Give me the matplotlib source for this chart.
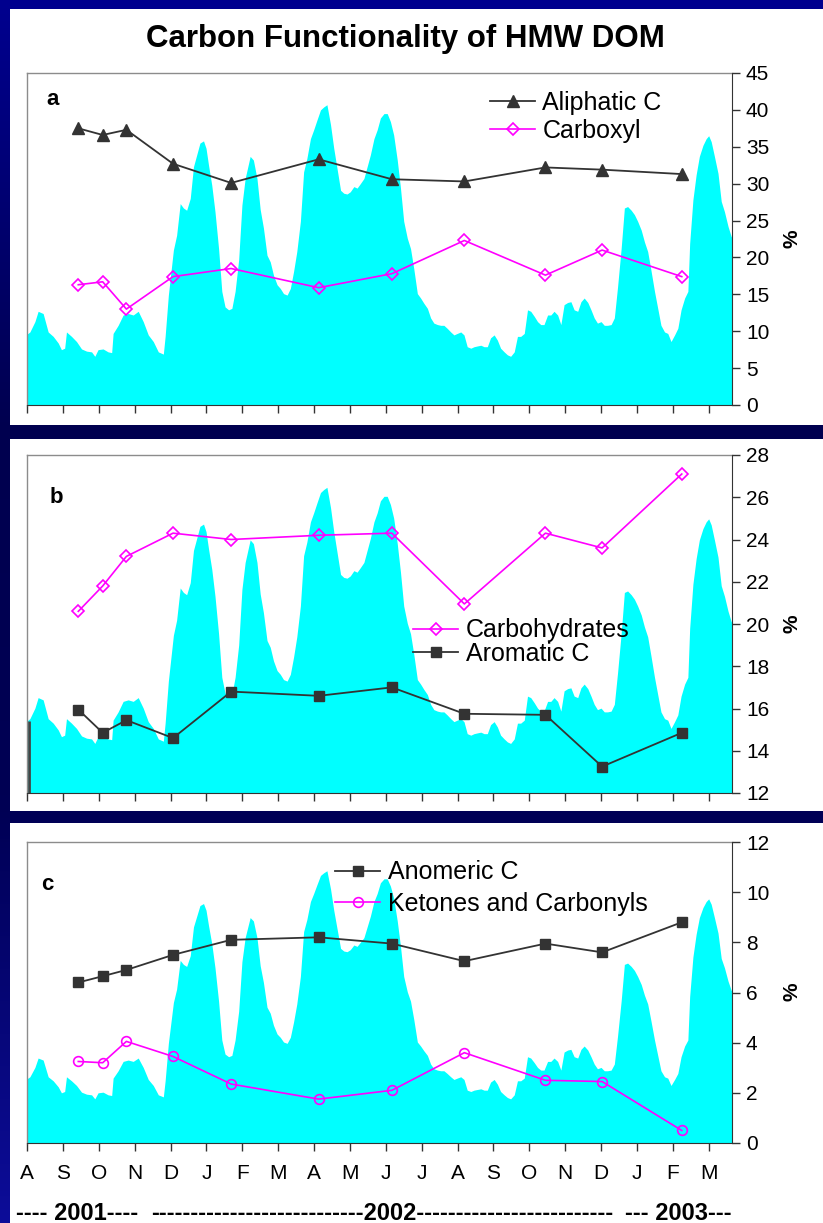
import matplotlib
matplotlib.use("Agg")
import matplotlib.pyplot as plt
import numpy as np
from matplotlib.patches import Rectangle

plt.rcParams['font.family'] = ['Liberation Sans', 'DejaVu Sans']

# ---------------------------------------------------------------- data
# Month labels along the shared time axis (Aug 2001 .. Mar 2003)
month_labels = ['A', 'S', 'O', 'N', 'D', 'J', 'F', 'M', 'A', 'M',
                'J', 'J', 'A', 'S', 'O', 'N', 'D', 'J', 'F', 'M']
year_labels = ['---- 2001----',
               '---------------------------2002-------------------------',
               '--- 2003---']

# Sampling dates, in months since 1 Aug 2001
sample_month = [1.43, 2.11, 2.77, 4.07, 5.69, 8.13, 10.17, 12.19, 14.45, 16.03, 18.25]

# Panel a (%)
aliphatic = [37.5, 36.6, 37.3, 32.7, 30.1, 33.3, 30.6, 30.3, 32.2, 31.9, 31.3]
carboxyl = [16.3, 16.7, 13.0, 17.4, 18.5, 15.9, 17.8, 22.3, 17.6, 21.0, 17.4]

# Panel b (%)
carbohydrates = [20.6, 21.8, 23.2, 24.3, 24.0, 24.2, 24.3, 20.95, 24.3, 23.6, 27.1]
aromatic = [15.95, 14.85, 15.45, 14.6, 16.8, 16.6, 17.0, 15.75, 15.7, 13.25, 14.85]

# Panel c (%)
anomeric = [6.4, 6.65, 6.9, 7.5, 8.1, 8.2, 7.95, 7.25, 7.95, 7.6, 8.8]
ketones = [3.25, 3.2, 4.05, 3.45, 2.35, 1.75, 2.1, 3.6, 2.5, 2.45, 0.5]

# River discharge record drawn behind every panel (relative units)
flow_month = [
    0.00, 0.08, 0.22, 0.31, 0.45, 0.59, 0.73, 0.87, 0.96, 1.05, 1.10, 1.24, 1.38, 1.52,
    1.66, 1.80, 1.89, 1.98, 2.12, 2.26, 2.36, 2.40, 2.54, 2.68, 2.82, 2.96, 3.10, 3.24,
    3.38, 3.52, 3.66, 3.80, 3.85, 3.94, 4.08, 4.17, 4.27, 4.36, 4.45, 4.55, 4.64, 4.73,
    4.82, 4.92, 4.99, 5.06, 5.15, 5.24, 5.34, 5.43, 5.52, 5.62, 5.71, 5.80, 5.90, 5.99,
    6.08, 6.22, 6.31, 6.41, 6.50, 6.59, 6.69, 6.78, 6.87, 6.97, 7.06, 7.15, 7.25, 7.34,
    7.43, 7.52, 7.62, 7.71, 7.80, 7.90, 7.99, 8.08, 8.18, 8.27, 8.36, 8.46, 8.55, 8.64,
    8.74, 8.83, 8.92, 9.01, 9.11, 9.20, 9.29, 9.39, 9.48, 9.57, 9.67, 9.76, 9.85, 9.95,
    10.04, 10.13, 10.22, 10.32, 10.41, 10.50, 10.60, 10.69, 10.78, 10.88, 10.97, 11.06,
    11.16, 11.25, 11.34, 11.44, 11.53, 11.62, 11.71, 11.81, 11.90, 11.99, 12.09, 12.18,
    12.27, 12.37, 12.46, 12.55, 12.65, 12.74, 12.83, 12.92, 13.02, 13.11, 13.20, 13.30,
    13.39, 13.48, 13.58, 13.67, 13.76, 13.86, 13.95, 14.04, 14.14, 14.23, 14.32, 14.41,
    14.51, 14.60, 14.69, 14.79, 14.88, 14.97, 15.07, 15.16, 15.25, 15.35, 15.44, 15.53,
    15.63, 15.72, 15.81, 15.90, 16.00, 16.09, 16.18, 16.28, 16.37, 16.46, 16.56, 16.65,
    16.74, 16.84, 16.93, 17.02, 17.12, 17.21, 17.30, 17.39, 17.49, 17.58, 17.67, 17.77,
    17.86, 17.95, 18.05, 18.14, 18.23, 18.33, 18.42, 18.47, 18.56, 18.65, 18.74, 18.84,
    18.93, 19.00, 19.07, 19.16, 19.26, 19.35, 19.44, 19.54, 19.63, 19.68]
flow = [
    9.6, 9.9, 11.3, 12.7, 12.4, 9.9, 9.3, 8.4, 7.5, 7.7, 9.9, 9.3, 8.6, 7.6,
    7.3, 7.2, 6.6, 7.5, 7.6, 7.2, 7.1, 9.7, 10.8, 12.2, 12.4, 12.2, 12.7, 11.3,
    9.5, 8.6, 7.2, 6.9, 9.3, 14.9, 21.0, 23.0, 27.3, 26.7, 26.4, 28.0, 32.3, 33.9,
    35.5, 35.8, 34.8, 32.5, 29.8, 26.2, 21.2, 15.4, 13.3, 12.9, 13.1, 15.4, 19.7, 27.1,
    30.7, 33.7, 33.2, 30.7, 26.5, 24.0, 20.3, 19.4, 17.6, 16.3, 15.8, 15.1, 14.9, 15.8,
    18.1, 20.8, 24.9, 31.6, 33.4, 36.1, 37.3, 38.6, 40.0, 40.4, 40.7, 38.0, 34.8, 32.1,
    29.1, 28.7, 28.6, 28.9, 29.6, 29.4, 30.0, 30.7, 32.3, 33.9, 36.1, 37.3, 38.9, 39.5,
    39.5, 38.4, 36.6, 33.2, 29.4, 24.9, 22.6, 21.2, 18.5, 15.1, 14.5, 13.8,
    13.1, 11.8, 11.1, 10.9, 10.8, 10.8, 10.4, 9.9, 9.5, 9.7, 9.9, 9.5,
    7.9, 7.7, 7.9, 8.0, 8.1, 7.9, 7.9, 9.1, 9.5, 8.8, 7.7, 7.2,
    6.8, 6.6, 7.2, 9.3, 9.3, 9.7, 12.9, 12.7, 12.0, 11.3, 10.9, 10.9,
    12.2, 12.2, 12.7, 12.2, 10.9, 13.6, 13.9, 14.0, 12.9, 12.7, 14.0, 14.5,
    13.9, 12.9, 11.8, 11.1, 11.3, 10.8, 10.8, 10.9, 11.8, 16.0, 21.2, 26.7,
    26.9, 26.4, 25.8, 24.9, 23.7, 22.1, 20.8, 18.3, 15.4, 13.1, 10.8, 9.9,
    9.7, 8.6, 9.5, 10.4, 12.9, 14.5, 15.4, 21.9, 27.8, 31.2, 33.7, 35.2,
    36.1, 36.5, 35.7, 33.7, 31.4, 27.6, 26.2, 24.2, 22.8, 22.8]

# ---------------------------------------------------------------- style
W, H = 823, 1223
CYAN = '#00FFFF'
MAGENTA = '#FF00FF'
DARK = '#333333'
X_END = 19.65
FLOW_TOP = 45.0

fig = plt.figure(figsize=(W / 100, H / 100), dpi=100)

# Slide background: navy gradient frame with white panels
bg = fig.add_axes([0, 0, 1, 1], zorder=-5)
bg.set_xlim(0, W)
bg.set_ylim(H, 0)
bg.axis('off')
pos = np.array([0.0, 0.35, 0.66, 1.0])
cols = np.array([[0.0, 0.0, 0.56], [0.0, 0.0, 0.31], [0.0, 0.0, 0.33], [0.05, 0.05, 0.60]])
t = np.linspace(0, 1, 256)
grad = np.stack([np.interp(t, pos, cols[:, k]) for k in range(3)], axis=1)[:, None, :]
bg.imshow(grad, extent=[0, W, H, 0], aspect='auto', interpolation='bilinear')
for (y0, y1) in [(9, 425), (439, 811), (823, H)]:
    bg.add_patch(Rectangle((10, y0), W - 10, y1 - y0, facecolor='white', edgecolor='none'))


def fig_rect(left, top, right, bottom):
    return [left / W, 1 - bottom / H, (right - left) / W, (bottom - top) / H]


def make_panel(rect, ylim, yticks, show_months=False, edge_line=False):
    ax_flow = fig.add_axes(fig_rect(*rect))
    ax_flow.fill_between(flow_month, 0, flow, color=CYAN, lw=0)
    if edge_line:
        ax_flow.vlines(flow_month[0] + 0.06, 0, flow[0], color='#444444', lw=2)
    ax_flow.set_xlim(0, X_END)
    ax_flow.set_ylim(0, FLOW_TOP)
    ax_flow.set_xticks(range(len(month_labels)))
    ax_flow.set_xticklabels(month_labels if show_months else [])

    ax = ax_flow.twinx()
    ax.set_ylim(*ylim)
    ax.set_yticks(yticks)
    ax.set_xlim(0, X_END)

    # axis styling (after twinx, which resets the left ticks)
    ax_flow.tick_params(axis='x', direction='out', length=6, width=1, color=DARK,
                        pad=9, labelsize=15)
    ax_flow.tick_params(axis='y', which='both', left=False, right=False,
                        labelleft=False, labelright=False)
    for s in ('top', 'left'):
        ax_flow.spines[s].set_color('#8c8c8c')
        ax_flow.spines[s].set_linewidth(1.0)
    ax_flow.spines['bottom'].set_color(DARK)
    ax_flow.spines['right'].set_visible(False)

    ax.tick_params(axis='y', direction='out', length=6, width=1, color=DARK,
                   pad=4, labelsize=15, left=False, labelleft=False)
    for s in ('top', 'left', 'bottom'):
        ax.spines[s].set_visible(False)
    ax.spines['right'].set_color(DARK)
    return ax


def legend(ax, handles, labels, x, y, spacing):
    ax.legend(handles, labels, loc='center left', bbox_to_anchor=(x / W, 1 - y / H),
              bbox_transform=fig.transFigure, frameon=False, fontsize=18,
              handlelength=1.8, handletextpad=0.3, labelspacing=spacing,
              borderpad=0, borderaxespad=0)


black_kw = dict(color=DARK, lw=1.3, mfc=DARK, mec=DARK)
pink_kw = dict(color=MAGENTA, lw=1.2, mfc='none', mec=MAGENTA, mew=1.2)

# ---------------------------------------------------------------- panel a
ax_a = make_panel((27, 73, 732, 405), (0, 45), range(0, 46, 5))
la, = ax_a.plot(sample_month, aliphatic, marker='^', ms=9, **black_kw)
lc, = ax_a.plot(sample_month, carboxyl, marker='D', ms=6, **pink_kw)
legend(ax_a, [la, lc], ['Aliphatic C', 'Carboxyl'], 490, 117, 0.15)

# ---------------------------------------------------------------- panel b
ax_b = make_panel((27, 455, 732, 793), (12, 28), range(12, 29, 2), edge_line=True)
lh, = ax_b.plot(sample_month, carbohydrates, marker='D', ms=6, **pink_kw)
lr, = ax_b.plot(sample_month, aromatic, marker='s', ms=7, **black_kw)
legend(ax_b, [lh, lr], ['Carbohydrates', 'Aromatic C'], 413, 642, -0.02)

# ---------------------------------------------------------------- panel c
ax_c = make_panel((27, 842, 732, 1143), (0, 12), range(0, 13, 2), show_months=True)
ln, = ax_c.plot(sample_month, anomeric, marker='s', ms=7, **black_kw)
lk, = ax_c.plot(sample_month, ketones, marker='o', ms=7, **pink_kw)
legend(ax_c, [ln, lk], ['Anomeric C', 'Ketones and Carbonyls'], 335, 888, 0.3)

# ---------------------------------------------------------------- texts
fig.text(405 / W, 1 - 47 / H, 'Carbon Functionality of HMW DOM', ha='center',
         va='baseline', fontsize=22.5, fontweight='bold')
for letter, x, y in [('a', 53, 105), ('b', 56, 503), ('c', 47, 890)]:
    fig.text(x / W, 1 - y / H, letter, ha='center', va='baseline',
             fontsize=16, fontweight='bold')
for y in (239, 624, 992):
    fig.text(792 / W, 1 - y / H, '%', ha='center', va='center', rotation=90,
             fontsize=15, fontweight='bold')
for txt, x in zip(year_labels, (77.5, 382, 678.5)):
    fig.text(x / W, 1 - 1220 / H, txt, ha='center', va='baseline',
             fontsize=17, fontweight='bold')

fig.savefig('out.png', dpi=100)
